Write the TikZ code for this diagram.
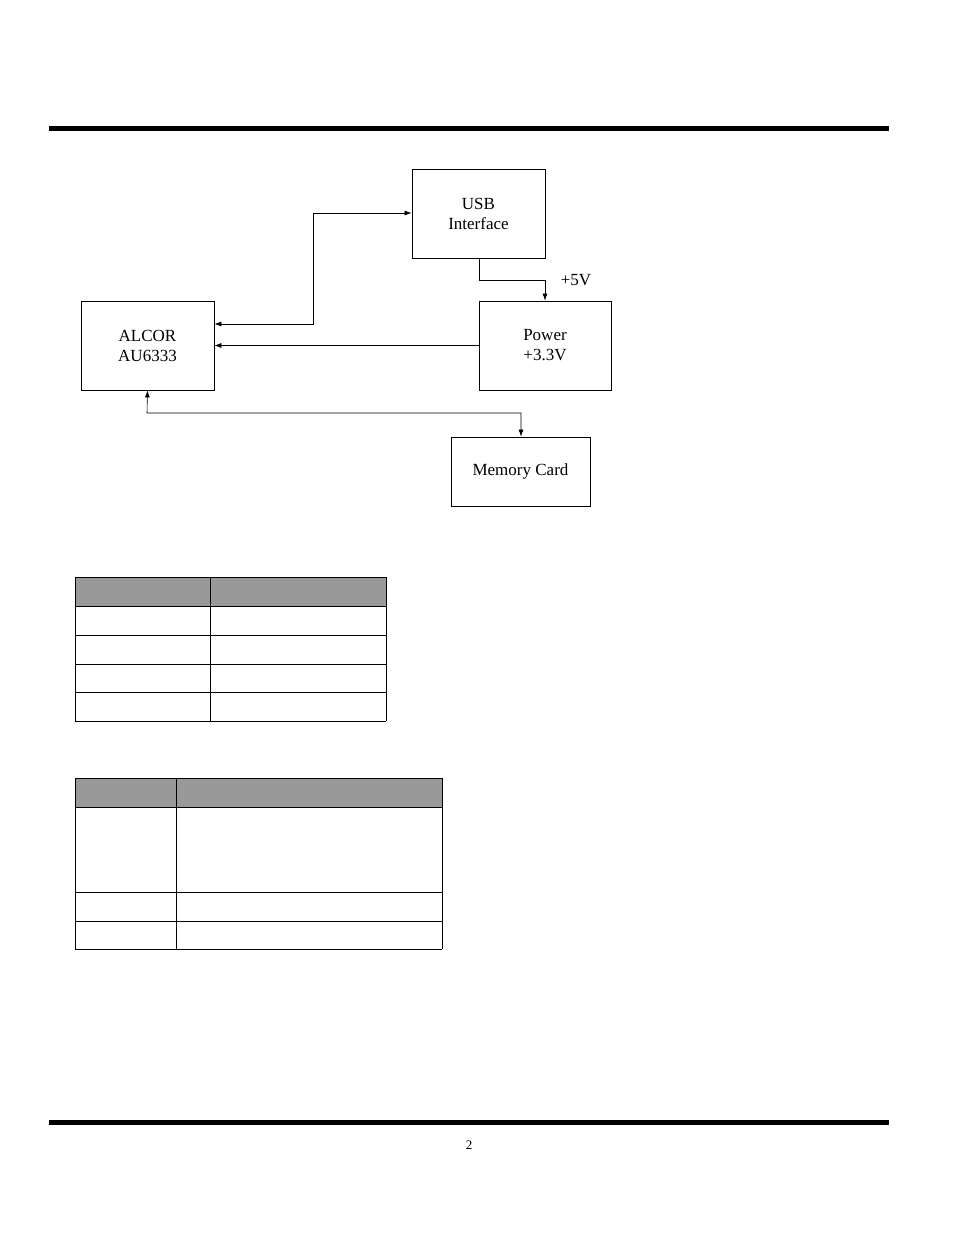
\documentclass[tikz,border=0pt]{standalone}
\usepackage{fontspec}
\setmainfont{Liberation Serif}
\usetikzlibrary{arrows.meta}
\begin{document}
\begin{tikzpicture}[x=1pt,y=-1pt,
  blk/.style={draw,line width=0.8pt,inner sep=0pt,align=center,font=\fontsize{17}{20}\selectfont},
  conn/.style={line width=0.6pt,-{Latex[length=7pt,width=5pt]}},
  hdr/.style={fill=black!40}]
\useasboundingbox (0,0) rectangle (954,1235);
\fill (49,125.5) rectangle (889,130.5);
\fill (49,1120) rectangle (889,1124.5);
\node[font=\fontsize{13}{15}\selectfont] (pg) at (469,1145) {2};
\node[blk,minimum width=133pt,minimum height=89pt] (usb) at (478.5,213.5) {USB\\Interface};
\node[blk,minimum width=133pt,minimum height=89pt] (alc) at (147.5,345.5) {ALCOR\\AU6333};
\node[blk,minimum width=132pt,minimum height=89pt] (pwr) at (545,345.5) {Power\\+3.3V};
\node[blk,minimum width=139pt,minimum height=69pt] (mem) at (520.5,471.5) {Memory Card};
\node[font=\fontsize{17}{20}\selectfont] (v5) at (576,280) {+5V};
\coordinate (a1) at (313,324);
\coordinate (a2) at (313,213);
\draw[conn,{Latex[length=7pt,width=5pt]}-{Latex[length=7pt,width=5pt]}] (alc.east|-a1) -- (a1) -- (a2) -- (usb.west|-a2);
\coordinate (b1) at (479,280);
\coordinate (b2) at (545,280);
\draw[conn] (usb.south-|b1) -- (b1) -- (b2) -- (pwr.north);
\draw[conn] (pwr.west) -- (alc.east|-pwr.west);
\coordinate (c1) at (147,413);
\coordinate (c2) at (521,413);
\draw[conn,{Latex[length=7pt,width=5pt]}-{Latex[length=7pt,width=5pt]}] (alc.south) -- (c1) -- (c2) -- (mem.north-|c2);
% table 1
\fill[hdr] (75,577) rectangle (386,606);
\foreach \y in {577,606,635,664,692,721} \draw[line width=0.6pt] (75,\y) -- (386,\y);
\foreach \x in {75,210,386} \draw[line width=0.6pt] (\x,577) -- (\x,721);
% table 2
\fill[hdr] (75,778) rectangle (442,807);
\foreach \y in {778,807,892,921,949} \draw[line width=0.6pt] (75,\y) -- (442,\y);
\foreach \x in {75,176,442} \draw[line width=0.6pt] (\x,778) -- (\x,949);
\end{tikzpicture}
\end{document}
